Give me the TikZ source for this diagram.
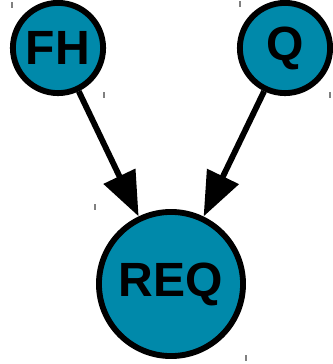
\documentclass[tikz,border=0pt]{standalone}
\usepackage{fontspec}
\setmainfont{Liberation Sans}
\usetikzlibrary{arrows.meta}
\definecolor{nodeteal}{RGB}{0,137,170}
\tikzset{
  state/.style={circle,draw=black,line width=5pt,fill=nodeteal,inner sep=0pt,
    font=\fontsize{41}{41}\selectfont\bfseries},
  link/.style={line width=5pt,-{Triangle[length=38pt,width=29pt]}},
  tick/.style={gray,line width=1pt}
}
\begin{document}
\begin{tikzpicture}[x=0.03cm,y=-0.03cm]
\useasboundingbox (0,0) rectangle (332,364);
\node[state,minimum size=77pt] (fh) at (58,48) {FH};
\node[state,minimum size=77pt] (q) at (285,48) {Q};
\node[state,minimum size=123pt] (req) at (171,284) {REQ};
\draw[link] (fh) -- (req);
\draw[link] (q) -- (req);
% corner marks
\foreach \x/\y in {12/5,104/95,240/4,330/95,95/207,246/358}
  \draw[tick] (\x,\y-3) -- (\x,\y+3);
\end{tikzpicture}
\end{document}
